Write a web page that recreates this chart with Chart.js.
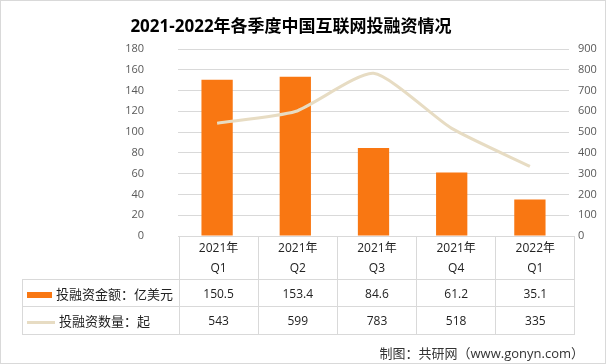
<!DOCTYPE html>
<html>
<head>
<meta charset="utf-8">
<script src="https://cdn.jsdelivr.net/npm/chart.js@4"></script>
<style>
  body { margin: 0; background: #fff; }
  #wrap { position: relative; width: 606px; height: 364px; overflow: hidden; font-family: "Open Sans", "Noto Sans CJK SC", sans-serif; }
  #chart { position: absolute; left: 0; top: 0; }
  #frame { position: absolute; left: 0; top: 0; width: 606px; height: 364px; box-sizing: border-box; border: 1px solid #d9d9d9; pointer-events: none; }
  #title { position: absolute; left: 0; width: 582px; top: 12px; text-align: center; font-size: 17px; font-weight: bold; color: #000; }
  #source { position: absolute; right: 22px; top: 343px; font-size: 13px; color: #333; }
  #tbl { position: absolute; left: 22px; top: 236px; border-collapse: collapse; font-size: 12px; color: #222; }
  #tbl td { border: 1px solid #d9d9d9; text-align: center; padding: 0; }
  #tbl td.blank { border-top: none; border-left: none; }
  #tbl td.lab { text-align: left; font-size: 13px; white-space: nowrap; padding-left: 4px; }
  .key { display: inline-block; vertical-align: middle; margin-right: 4px; }
</style>
</head>
<body>
<div id="wrap">
  <canvas id="chart" width="606" height="364"></canvas>
  <div id="title">2021-2022年各季度中国互联网投融资情况</div>
  <table id="tbl"></table>
  <div id="source">制图：共研网（www.gonyn.com）</div>
  <div id="frame"></div>
</div>
<script>
"use strict";

// data
let years = ["2021年", "2021年", "2021年", "2021年", "2022年"];
let quarters = ["Q1", "Q2", "Q3", "Q4", "Q1"];
let amountName = "投融资金额：亿美元";
let countName = "投融资数量：起";
let amounts = [150.5, 153.4, 84.6, 61.2, 35.1];
let counts = [543, 599, 783, 518, 335];

let barColor = "#f97712";
let lineColor = "#e7dcc3";
let labels = years.map((y, i) => y + " " + quarters[i]);

let ctx = document.getElementById("chart").getContext("2d");
let myChart = new Chart(ctx, {
  type: "bar",
  data: {
    labels: labels,
    datasets: [
      {
        label: amountName,
        data: amounts,
        backgroundColor: barColor,
        yAxisID: "y",
        barPercentage: 0.4,
        categoryPercentage: 1,
        order: 2
      },
      {
        type: "line",
        label: countName,
        data: counts,
        borderColor: lineColor,
        borderWidth: 3,
        pointRadius: 0,
        tension: 0.2,
        yAxisID: "y1",
        order: 1
      }
    ]
  },
  options: {
    responsive: false,
    animation: false,
    devicePixelRatio: 1,
    layout: { padding: { top: 49, bottom: 128, left: 0, right: 0 } },
    plugins: { legend: { display: false }, tooltip: { enabled: false }, title: { display: false } },
    scales: {
      x: { display: false },
      y: {
        position: "left",
        min: 0, max: 180,
        ticks: { stepSize: 20, color: "#595959", font: { size: 11, family: "'Open Sans', sans-serif" }, padding: 34 },
        grid: { color: "#d9d9d9", drawTicks: false },
        border: { display: false },
        afterFit: function (s) { s.width = 178; }
      },
      y1: {
        position: "right",
        min: 0, max: 900,
        ticks: { stepSize: 100, color: "#595959", font: { size: 11, family: "'Open Sans', sans-serif" }, padding: 9 },
        grid: { display: false, drawTicks: false },
        border: { display: false },
        afterFit: function (s) { s.width = 37; }
      }
    }
  }
});

// table under the plot, columns follow the chart area
function buildTable() {
  let area = myChart.chartArea;
  let colW = (area.right - area.left) / years.length;
  let firstW = area.left - 22;
  let tbl = document.getElementById("tbl");
  let html = "<tr style='height:43px'><td class='blank' style='width:" + firstW + "px'></td>";
  for (let i = 0; i < years.length; i++) {
    html += "<td style='width:" + colW + "px;line-height:20px'>" + years[i] + "<br>" + quarters[i] + "</td>";
  }
  html += "</tr><tr style='height:27px'><td class='lab'><span class='key' style='width:25px;height:6px;background:" + barColor + "'></span>" + amountName + "</td>";
  for (let i = 0; i < amounts.length; i++) html += "<td>" + amounts[i] + "</td>";
  html += "</tr><tr style='height:28px'><td class='lab'><span class='key' style='width:28px;height:3px;background:" + lineColor + "'></span>" + countName + "</td>";
  for (let i = 0; i < counts.length; i++) html += "<td>" + counts[i] + "</td>";
  html += "</tr>";
  tbl.innerHTML = html;
}
buildTable();
</script>
</body>
</html>
